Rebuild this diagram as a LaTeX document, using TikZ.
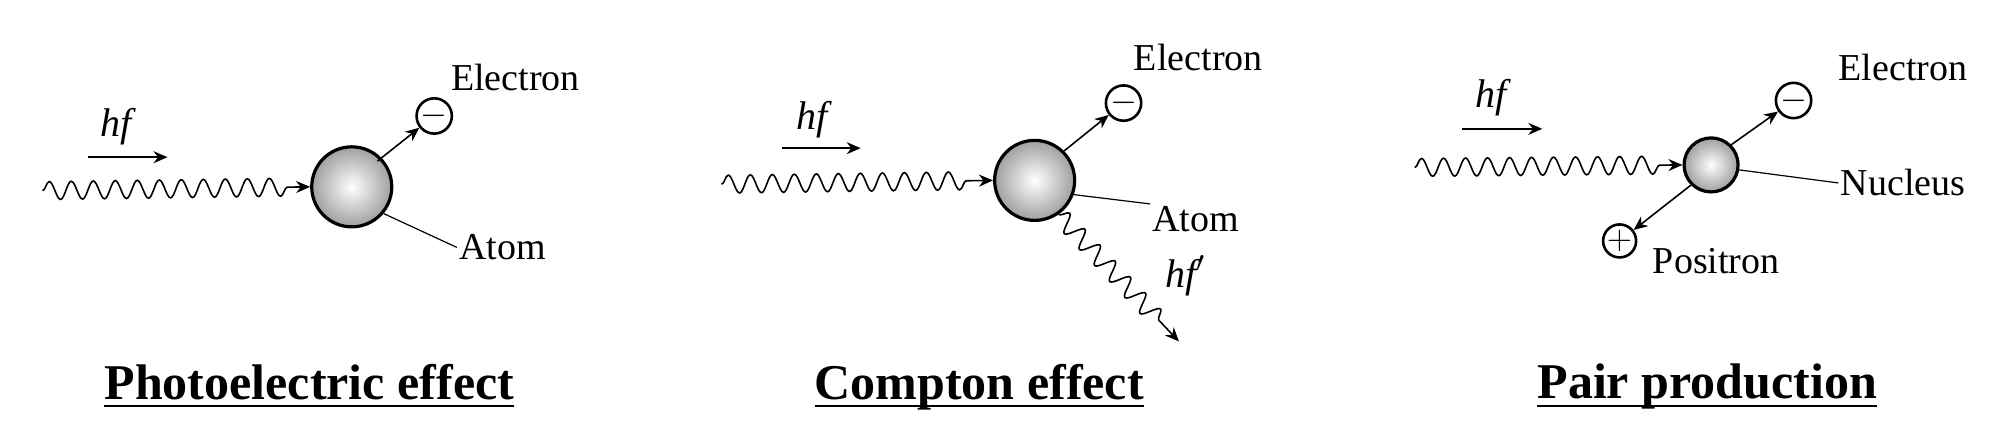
\documentclass[tikz,border=0pt]{standalone}
\usepackage{amsmath}
\usepackage{fontspec}
\setmainfont{Liberation Serif}
\usetikzlibrary{decorations.pathmorphing,arrows.meta,positioning}
\begin{document}
\begin{tikzpicture}[
    x=0.644pt,y=-0.644pt,
    >={Stealth[length=7pt,width=6pt]},
    photon/.style={decorate,decoration={snake,segment length=11pt,amplitude=4.5pt,post length=9pt},->,thick},
    ball/.style={circle,draw,line width=1.6pt,inner color=white,outer color=gray!75},
    charge/.style={circle,draw,line width=1.3pt,inner sep=0pt,minimum size=16pt,font=\fontsize{17}{17}\selectfont},
    lbl/.style={font=\fontsize{19}{22}\selectfont,inner sep=1pt},
    hflbl/.style={font=\fontsize{20}{22}\selectfont\itshape,inner sep=1pt},
    title/.style={font=\fontsize{25}{28}\selectfont\bfseries},
    pointer/.style={semithick}
  ]
    \useasboundingbox (0,0) rectangle (1560,326);

    % photoelectric effect
    \node[ball,minimum size=40pt] (atomA) at (273,145) {};
    \coordinate (inA) at (33,148);
    \node[charge] (eA) at (337,90) {$-$};
    \node[lbl] (eA label) at (400,60) {Electron};
    \node[lbl] (atomA label) at (390,192) {Atom};
    \coordinate (hfA start) at (68,122);
    \coordinate (hfA end) at (130,122);
    \node[hflbl] (hfA) at (90,98) {hf};
    \draw[photon] (inA) -- (atomA.west);
    \draw[->,thick] (hfA start) -- (hfA end);
    \draw[->,thick] (atomA.center) ++(20,-20) -- (eA);
    \draw[pointer] (atomA.-40) -- (atomA label.west);
    \node[title] (titleA) at (240,300) {\underline{\smash[b]{Photoelectric effect}}};

    % compton effect
    \node[ball,minimum size=40pt] (atomB) at (803,140) {};
    \coordinate (inB) at (560,143);
    \node[charge] (eB) at (872,80) {$-$};
    \node[lbl] (eB label) at (930,45) {Electron};
    \node[lbl] (atomB label) at (928,170) {Atom};
    \coordinate (hfB start) at (607,115);
    \coordinate (hfB end) at (668,115);
    \node[hflbl] (hfB) at (630,93) {hf};
    \coordinate (outB) at (915,265);
    \node[hflbl] (hfB out) at (920,214) {hf$'$};
    \draw[photon] (inB) -- (atomB.west);
    \draw[->,thick] (hfB start) -- (hfB end);
    \draw[->,thick] (atomB.45) -- (eB);
    \draw[pointer] (atomB.-20) -- (atomB label.north west);
    \draw[photon] (atomB.-55) -- (outB);
    \node[title] (titleB) at (760,300) {\underline{\smash[b]{Compton effect}}};

    % pair production
    \node[ball,minimum size=27pt] (nucC) at (1328,128) {};
    \coordinate (inC) at (1098,130);
    \node[charge] (eC) at (1392,78) {$-$};
    \node[charge] (pC) at (1257,187) {$+$};
    \node[lbl] (eC label) at (1477,52) {Electron};
    \node[lbl] (nucC label) at (1477,142) {Nucleus};
    \node[lbl] (pC label) at (1332,203) {Positron};
    \coordinate (hfC start) at (1135,100);
    \coordinate (hfC end) at (1197,100);
    \node[hflbl] (hfC) at (1157,76) {hf};
    \draw[photon] (inC) -- (nucC.west);
    \draw[->,thick] (hfC start) -- (hfC end);
    \draw[->,thick] (nucC.45) -- (eC);
    \draw[->,thick] (nucC.-135) -- (pC);
    \draw[pointer] (nucC.-10) -- (nucC label.west);
    \node[title] (titleC) at (1325,300) {\underline{\smash[b]{Pair production}}};
\end{tikzpicture}
\end{document}
